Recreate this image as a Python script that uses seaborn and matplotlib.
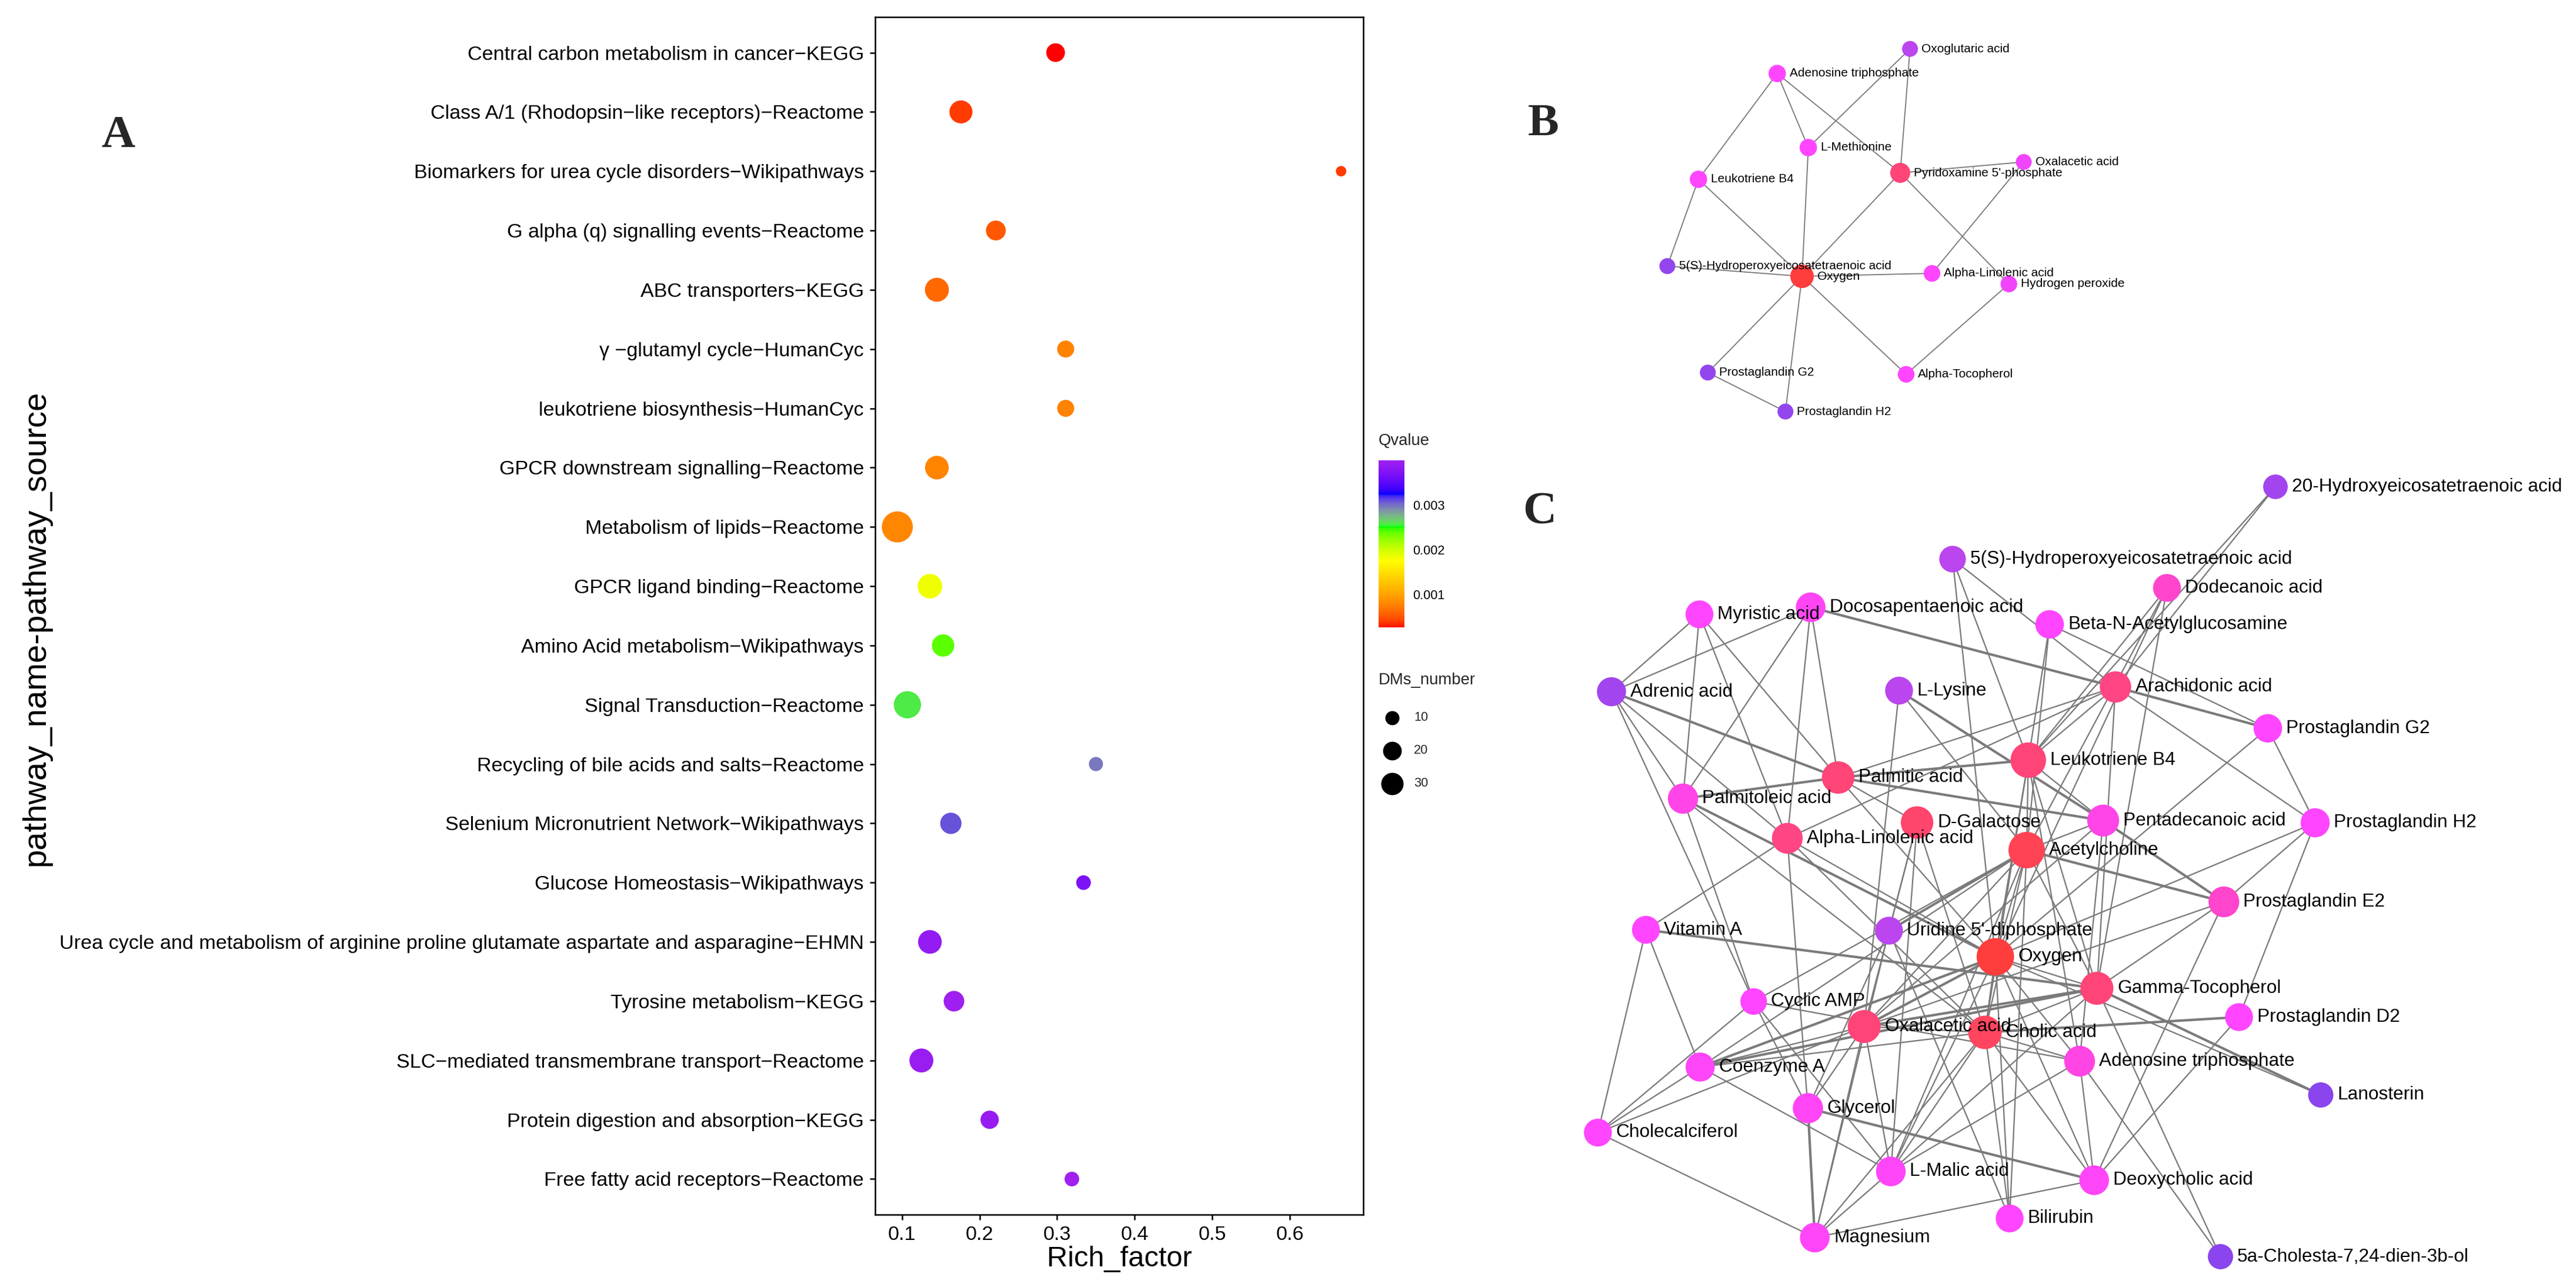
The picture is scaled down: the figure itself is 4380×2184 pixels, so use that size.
import numpy as np
import pandas as pd
import matplotlib
matplotlib.use("Agg")
import matplotlib.pyplot as plt
import seaborn as sns
from matplotlib.colors import ListedColormap, LinearSegmentedColormap, Normalize
from matplotlib.lines import Line2D
from matplotlib.collections import LineCollection
import matplotlib.cm as cm

# ---------------- Panel A data ----------------
PATHWAYS = [
    "Central carbon metabolism in cancer\u2212KEGG",
    "Class A/1 (Rhodopsin\u2212like receptors)\u2212Reactome",
    "Biomarkers for urea cycle disorders\u2212Wikipathways",
    "G alpha (q) signalling events\u2212Reactome",
    "ABC transporters\u2212KEGG",
    "\u03b3 \u2212glutamyl cycle\u2212HumanCyc",
    "leukotriene biosynthesis\u2212HumanCyc",
    "GPCR downstream signalling\u2212Reactome",
    "Metabolism of lipids\u2212Reactome",
    "GPCR ligand binding\u2212Reactome",
    "Amino Acid metabolism\u2212Wikipathways",
    "Signal Transduction\u2212Reactome",
    "Recycling of bile acids and salts\u2212Reactome",
    "Selenium Micronutrient Network\u2212Wikipathways",
    "Glucose Homeostasis\u2212Wikipathways",
    "Urea cycle and metabolism of arginine proline glutamate aspartate and asparagine\u2212EHMN",
    "Tyrosine metabolism\u2212KEGG",
    "SLC\u2212mediated transmembrane transport\u2212Reactome",
    "Protein digestion and absorption\u2212KEGG",
    "Free fatty acid receptors\u2212Reactome",
]
RICH_FACTOR = [0.298, 0.176, 0.666, 0.221, 0.145, 0.311, 0.311, 0.145, 0.094, 0.136,
               0.153, 0.107, 0.350, 0.163, 0.334, 0.136, 0.167, 0.125, 0.213, 0.319]
DMS_NUMBER = [20, 32, 4, 23, 35, 16, 16, 34, 61, 37, 30, 46, 10, 27, 11, 34, 25, 35, 19, 11]
QVALUE = [0.00026, 0.00039, 0.00038, 0.00052, 0.00060, 0.00076, 0.00077, 0.00078, 0.00080, 0.00183,
          0.00240, 0.00258, 0.00297, 0.00309, 0.00370, 0.00389, 0.00398, 0.00394, 0.00390, 0.00400]
RICH_TICKS = [0.1, 0.2, 0.3, 0.4, 0.5, 0.6]
QV_TICKS = [0.001, 0.002, 0.003]
DMS_LEGEND = [10, 20, 30]
Q_COLOURS = ["#FF0000", "#FFA500", "#FFFF00", "#00FF00", "#0000FF", "#A020F0"]

# ---------------- Panel B data ----------------
B_NODES = ["Oxoglutaric acid", "Adenosine triphosphate", "L-Methionine", "Leukotriene B4",
           "Pyridoxamine 5'-phosphate", "5(S)-Hydroperoxyeicosatetraenoic acid", "Oxygen",
           "Alpha-Linolenic acid", "Prostaglandin G2", "Prostaglandin H2", "Alpha-Tocopherol",
           "Oxalacetic acid", "Hydrogen peroxide"]
B_LAYOUT_X = [467.6, 241.8, 294.7, 107.9, 451.0, 55.0, 284.0, 505.0, 123.8, 255.8, 461.0, 661.0, 635.7]
B_LAYOUT_Y = [43.2, 85.0, 211.0, 265.0, 254.0, 412.6, 430.0, 425.0, 593.7, 660.0, 596.7, 235.5, 443.0]
B_DEGREE = [2, 3, 3, 3, 5, 2, 8, 2.5, 2, 2, 2.5, 2, 2.5]
B_SCORE = [2.0, 3.0, 3.0, 3.0, 7.0, 1.2, 9.0, 3.0, 1.2, 1.2, 3.0, 2.8, 2.8]
B_EDGES = [
    ("Adenosine triphosphate", "Leukotriene B4"),
    ("Adenosine triphosphate", "L-Methionine"),
    ("Adenosine triphosphate", "Pyridoxamine 5'-phosphate"),
    ("Oxoglutaric acid", "L-Methionine"),
    ("Oxoglutaric acid", "Pyridoxamine 5'-phosphate"),
    ("L-Methionine", "Oxygen"),
    ("Leukotriene B4", "5(S)-Hydroperoxyeicosatetraenoic acid"),
    ("Leukotriene B4", "Oxygen"),
    ("Pyridoxamine 5'-phosphate", "Oxygen"),
    ("Pyridoxamine 5'-phosphate", "Oxalacetic acid"),
    ("Pyridoxamine 5'-phosphate", "Hydrogen peroxide"),
    ("Oxalacetic acid", "Alpha-Linolenic acid"),
    ("5(S)-Hydroperoxyeicosatetraenoic acid", "Oxygen"),
    ("Oxygen", "Alpha-Linolenic acid"),
    ("Oxygen", "Prostaglandin G2"),
    ("Oxygen", "Prostaglandin H2"),
    ("Oxygen", "Alpha-Tocopherol"),
    ("Prostaglandin G2", "Prostaglandin H2"),
    ("Alpha-Tocopherol", "Hydrogen peroxide"),
]

# ---------------- Panel C data ----------------
C_KEYS = ["HETE", "HPETE", "DODEC", "DPA", "MYR", "BNAG", "ADR", "LYS", "ARA", "PGG2",
          "LTB4", "PALM", "PALMO", "DGAL", "PENTA", "PGH2", "ALA", "ACH", "PGE2", "VITA",
          "UDP", "OXY", "GTOC", "CAMP", "PGD2", "OAA", "CHOL", "COA", "ATP", "LANO",
          "GLY", "CHOLE", "MAL", "DEOX", "BILI", "MG", "CHOLESTA"]
C_NODES = ["20-Hydroxyeicosatetraenoic acid", "5(S)-Hydroperoxyeicosatetraenoic acid",
           "Dodecanoic acid", "Docosapentaenoic acid", "Myristic acid",
           "Beta-N-Acetylglucosamine", "Adrenic acid", "L-Lysine", "Arachidonic acid",
           "Prostaglandin G2", "Leukotriene B4", "Palmitic acid", "Palmitoleic acid",
           "D-Galactose", "Pentadecanoic acid", "Prostaglandin H2", "Alpha-Linolenic acid",
           "Acetylcholine", "Prostaglandin E2", "Vitamin A", "Uridine 5'-diphosphate",
           "Oxygen", "Gamma-Tocopherol", "Cyclic AMP", "Prostaglandin D2", "Oxalacetic acid",
           "Cholic acid", "Coenzyme A", "Adenosine triphosphate", "Lanosterin", "Glycerol",
           "Cholecalciferol", "L-Malic acid", "Deoxycholic acid", "Bilirubin", "Magnesium",
           "5a-Cholesta-7,24-dien-3b-ol"]
C_LAYOUT_X = [1219, 670, 1034.5, 428.7, 239.6, 835, 90, 579, 947, 1206,
              798.7, 475.4, 211.6, 609.6, 926, 1286.5, 389, 796, 1131.3, 148.6,
              561.8, 742.7, 915.4, 331.8, 1157, 519.7, 725, 240.8, 886, 1296,
              424, 66.9, 565, 910.7, 767, 435.7, 1125.5]
C_LAYOUT_Y = [68, 191, 240, 273, 285, 302, 416.6, 414.7, 408.5, 478.8,
              533, 562.5, 598.4, 639, 635.7, 639.5, 665.9, 686, 774, 821.5,
              823, 867.5, 921, 943.5, 970, 986, 996, 1055, 1045, 1102.5,
              1125, 1166.5, 1232.5, 1247.5, 1312.5, 1345, 1377.5]
C_DEGREE = [3, 6, 8, 11, 8, 9, 10, 8, 14, 9,
            22, 16, 12, 16, 15, 10, 13, 24, 13, 8,
            8, 26, 17, 6, 8, 17, 18, 10, 13, 4,
            12, 8, 11, 11, 8, 11, 4]
C_SCORE = [1.5, 2.0, 4.5, 3.3, 3.0, 3.0, 1.5, 2.0, 6.5, 3.0,
           7.0, 7.0, 3.7, 7.5, 3.7, 3.0, 6.5, 8.3, 4.5, 3.0,
           2.0, 9.0, 7.0, 3.0, 3.0, 7.0, 8.0, 3.2, 3.8, 1.0,
           3.3, 3.0, 3.2, 3.2, 3.0, 3.2, 1.0]
C_EDGES = [
    ("HETE", "ARA", 1), ("HETE", "LTB4", 1),
    ("HPETE", "LTB4", 1), ("HPETE", "ARA", 1), ("HPETE", "OXY", 1),
    ("DODEC", "LTB4", 1), ("DODEC", "ACH", 1), ("DODEC", "OXY", 1), ("DODEC", "GTOC", 1),
    ("MYR", "ADR", 1), ("MYR", "PALMO", 1), ("MYR", "PALM", 1), ("MYR", "ALA", 1),
    ("DPA", "ADR", 1), ("DPA", "PALMO", 1), ("DPA", "PALM", 1), ("DPA", "ALA", 1), ("DPA", "ARA", 2),
    ("BNAG", "LTB4", 1), ("BNAG", "PGG2", 1), ("BNAG", "ACH", 1),
    ("ADR", "PALMO", 1), ("ADR", "ALA", 1), ("ADR", "PALM", 2), ("ADR", "CAMP", 1),
    ("LYS", "PENTA", 2), ("LYS", "OAA", 1), ("LYS", "ACH", 1),
    ("ARA", "PGG2", 2), ("ARA", "PGH2", 1), ("ARA", "LTB4", 1), ("ARA", "ALA", 1),
    ("ARA", "PALM", 1), ("ARA", "GTOC", 1),
    ("PGG2", "PGH2", 1), ("PGG2", "OXY", 1),
    ("LTB4", "PALM", 2), ("LTB4", "ACH", 1), ("LTB4", "OXY", 1), ("LTB4", "CHOL", 1),
    ("LTB4", "GTOC", 1), ("LTB4", "PENTA", 1), ("LTB4", "ATP", 1),
    ("PALM", "PALMO", 2), ("PALM", "PENTA", 2), ("PALM", "DGAL", 1), ("PALM", "OXY", 1),
    ("PALMO", "OXY", 2), ("PALMO", "CHOL", 1), ("PALMO", "CAMP", 1),
    ("DGAL", "UDP", 1), ("DGAL", "OAA", 1), ("DGAL", "CHOL", 1), ("DGAL", "MAL", 1),
    ("PENTA", "PGE2", 2), ("PENTA", "ACH", 1), ("PENTA", "ATP", 1), ("PENTA", "OAA", 1),
    ("PGH2", "PGD2", 1), ("PGH2", "PGE2", 1), ("PGH2", "OXY", 1),
    ("ALA", "VITA", 1), ("ALA", "OXY", 1), ("ALA", "CHOL", 1), ("ALA", "GLY", 1),
    ("ACH", "UDP", 2), ("ACH", "OXY", 1), ("ACH", "CHOL", 1), ("ACH", "GTOC", 1),
    ("ACH", "PGE2", 2), ("ACH", "CAMP", 1), ("ACH", "COA", 1), ("ACH", "OAA", 1),
    ("ACH", "MAL", 1), ("ACH", "BILI", 1),
    ("VITA", "GTOC", 2), ("VITA", "CHOLE", 1), ("VITA", "COA", 1),
    ("UDP", "BILI", 1), ("UDP", "MG", 1), ("UDP", "GLY", 1),
    ("OXY", "CHOL", 1), ("OXY", "OAA", 2), ("OXY", "GTOC", 1), ("OXY", "MAL", 1),
    ("OXY", "BILI", 1), ("OXY", "COA", 2), ("OXY", "ATP", 1), ("OXY", "DEOX", 1), ("OXY", "LANO", 1),
    ("GTOC", "COA", 2), ("GTOC", "OAA", 2), ("GTOC", "PGE2", 1), ("GTOC", "LANO", 2),
    ("GTOC", "CHOL", 1), ("GTOC", "MAL", 1), ("GTOC", "CHOLESTA", 1),
    ("CAMP", "CHOLE", 1), ("CAMP", "ATP", 1), ("CAMP", "GLY", 1), ("CAMP", "MAL", 1),
    ("PGD2", "CHOL", 2), ("PGD2", "DEOX", 1),
    ("OAA", "COA", 1), ("OAA", "MAL", 1), ("OAA", "GLY", 1), ("OAA", "CHOL", 1),
    ("OAA", "MG", 1), ("OAA", "CHOLE", 1), ("OAA", "PGE2", 1),
    ("CHOL", "DEOX", 1), ("CHOL", "BILI", 1), ("CHOL", "MAL", 1), ("CHOL", "COA", 1),
    ("CHOL", "ATP", 1), ("CHOL", "MG", 1),
    ("COA", "CHOLE", 1), ("COA", "MAL", 1),
    ("ATP", "DEOX", 1), ("ATP", "CHOLESTA", 1), ("ATP", "MAL", 1),
    ("GLY", "DEOX", 2), ("GLY", "MG", 2),
    ("CHOLE", "MG", 1), ("MAL", "MG", 1), ("DEOX", "MG", 1), ("DEOX", "PGE2", 1),
]
NET_SCORE_STOPS = [1.0, 2.0, 3.0, 4.5, 6.5, 8.0, 9.0]
NET_COLOURS = ["#8A45EE", "#BB45EE", "#FF45FF", "#FF45CC", "#FF4585", "#FF4560", "#FF3D3D"]

# ---------------- helpers ----------------
W, H, DPI = 4380, 2184, 300
PT = DPI / 72.0


def box(x0, y0, x1, y1):
    return [x0 / W, 1 - y1 / H, (x1 - x0) / W, (y1 - y0) / H]


M_RGB2XYZ = np.array([[0.4124564, 0.3575761, 0.1804375],
                      [0.2126729, 0.7151522, 0.0721750],
                      [0.0193339, 0.1191920, 0.9503041]])
WHITE = np.array([0.95047, 1.0, 1.08883])


def hex_rgb(h):
    return np.array([int(h[i:i + 2], 16) for i in (1, 3, 5)]) / 255.0


def rgb_to_lab(rgb):
    lin = np.where(rgb <= 0.04045, rgb / 12.92, ((rgb + 0.055) / 1.055) ** 2.4)
    xyz = M_RGB2XYZ @ lin / WHITE
    d = 6 / 29
    f = np.where(xyz > d ** 3, np.cbrt(xyz), xyz / (3 * d * d) + 4 / 29)
    return np.array([116 * f[1] - 16, 500 * (f[0] - f[1]), 200 * (f[1] - f[2])])


def lab_to_rgb(lab):
    L, a, b = lab
    fy = (L + 16) / 116
    f = np.array([fy + a / 500, fy, fy - b / 200])
    d = 6 / 29
    xyz = np.where(f > d, f ** 3, 3 * d * d * (f - 4 / 29)) * WHITE
    lin = np.clip(np.linalg.inv(M_RGB2XYZ) @ xyz, 0, 1)
    rgb = np.where(lin <= 0.0031308, 12.92 * lin, 1.055 * lin ** (1 / 2.4) - 0.055)
    return np.clip(rgb, 0, 1)


def lab_ramp(colours, n=256):
    labs = [rgb_to_lab(hex_rgb(c)) for c in colours]
    pos = np.linspace(0, 1, len(colours))
    out = []
    for t in np.linspace(0, 1, n):
        i = min(np.searchsorted(pos, t, side="right") - 1, len(colours) - 2)
        u = (t - pos[i]) / (pos[i + 1] - pos[i])
        out.append(lab_to_rgb(labs[i] * (1 - u) + labs[i + 1] * u))
    return ListedColormap(out)


sns.set_theme(style="white")
plt.rcParams["font.family"] = ["Liberation Sans", "DejaVu Sans"]
plt.rcParams["axes.unicode_minus"] = True

fig = plt.figure(figsize=(W / DPI, H / DPI), dpi=DPI)
fig.patch.set_facecolor("white")

# ---------------- Panel A ----------------
q_cmap = lab_ramp(Q_COLOURS)
dfA = pd.DataFrame({"pathway": PATHWAYS, "Rich_factor": RICH_FACTOR,
                    "Qvalue": QVALUE, "DMs_number": DMS_NUMBER})
dfA["row"] = np.arange(len(dfA))
qnorm = (min(QVALUE), max(QVALUE))
SIZE_RANGE_A = (8.2, 258.0)
SIZE_NORM_A = (0, 100)

axA = fig.add_axes(box(1488, 29, 2318, 2066))
sns.scatterplot(data=dfA, x="Rich_factor", y="row", hue="Qvalue", size="DMs_number",
                palette=q_cmap, hue_norm=qnorm, sizes=SIZE_RANGE_A, size_norm=SIZE_NORM_A,
                linewidth=0, legend=False, ax=axA, zorder=3)
rng = max(RICH_FACTOR) - min(RICH_FACTOR)
axA.set_xlim(min(RICH_FACTOR) - 0.05 * rng, max(RICH_FACTOR) + 0.05 * rng)
axA.set_ylim(len(dfA) - 1 + 0.6, -0.6)
axA.set_yticks(dfA["row"])
axA.set_yticklabels(PATHWAYS)
axA.set_xticks(RICH_TICKS)
axA.set_xticklabels([f"{t:.1f}" for t in RICH_TICKS])
axA.tick_params(axis="both", direction="out", length=2.2, width=0.6, labelsize=8.2,
                pad=2.4, color="black", labelcolor="black", left=True, bottom=True)
for s in axA.spines.values():
    s.set_visible(True)
    s.set_color("black")
    s.set_linewidth(0.6)
axA.set_xlabel("Rich_factor", fontsize=11.7, color="black")
axA.set_ylabel("pathway_name-pathway_source", fontsize=13.5, color="black")
axA.xaxis.set_label_coords(0.5, -(2142 - 2066) / 2037)
axA.xaxis.label.set_va("center")
axA.yaxis.set_label_coords((61 - 1488) / 830, 0.49)
axA.yaxis.label.set_va("center")

# colorbar
cax = fig.add_axes(box(2344, 783, 2388, 1067))
sm = cm.ScalarMappable(norm=Normalize(*qnorm), cmap=q_cmap)
cb = fig.colorbar(sm, cax=cax, ticks=QV_TICKS)
cb.outline.set_visible(False)
cb.minorticks_off()
cb.ax.set_yticklabels([f"{t:.3f}" for t in QV_TICKS])
cax.tick_params(axis="y", which="major", direction="in", length=2.2, width=0.7,
                color="white", left=True, right=True, labelleft=False, labelright=True,
                labelsize=5.2, pad=3.3, labelcolor="black")
fig.text(2344 / W, 1 - 750 / H, "Qvalue", fontsize=6.6, ha="left", va="center")
fig.text(2344 / W, 1 - 1157 / H, "DMs_number", fontsize=6.6, ha="left", va="center")
for v, yy in zip(DMS_LEGEND, [1220.5, 1277, 1333]):
    s_area = SIZE_RANGE_A[0] + (SIZE_RANGE_A[1] - SIZE_RANGE_A[0]) * (v - SIZE_NORM_A[0]) / (SIZE_NORM_A[1] - SIZE_NORM_A[0])
    fig.add_artist(Line2D([2367 / W], [1 - yy / H], marker="o", markersize=np.sqrt(s_area),
                          color="black", markeredgewidth=0, linestyle="none",
                          transform=fig.transFigure))
    fig.text(2404 / W, 1 - yy / H, str(v), fontsize=5.2, ha="left", va="center")


# ---------------- networks ----------------
net_cmap = LinearSegmentedColormap.from_list(
    "net", list(zip([(s - NET_SCORE_STOPS[0]) / (NET_SCORE_STOPS[-1] - NET_SCORE_STOPS[0])
                     for s in NET_SCORE_STOPS], NET_COLOURS)))


def draw_network(ax, names, xs, ys, degree, score, edges, size_range, size_norm,
                 fontsize, gap_px, edge_w):
    df = pd.DataFrame({"name": names, "x": xs, "y": ys, "degree": degree, "score": score})
    pos = {n: (x, y) for n, x, y in zip(names, xs, ys)}
    segs = [[pos[e[0]], pos[e[1]]] for e in edges]
    widths = [edge_w[e[2] if len(e) > 2 else 1] for e in edges]
    ax.add_collection(LineCollection(segs, colors="#7a7a7a", linewidths=widths, zorder=1))
    sns.scatterplot(data=df, x="x", y="y", hue="score", size="degree", palette=net_cmap,
                    hue_norm=(NET_SCORE_STOPS[0], NET_SCORE_STOPS[-1]), sizes=size_range,
                    size_norm=size_norm, linewidth=0, legend=False, ax=ax, zorder=3)
    for n, x, y, d in zip(names, xs, ys, degree):
        s_area = size_range[0] + (size_range[1] - size_range[0]) * (d - size_norm[0]) / (size_norm[1] - size_norm[0])
        r_px = np.sqrt(s_area) * PT / 2
        ax.annotate(n, (x, y), xytext=((r_px + gap_px) / PT, 0), textcoords="offset points",
                    ha="left", va="center", fontsize=fontsize, color="black", zorder=4)
    ax.set_axis_off()


# Panel B
bx0, by0, bx1, by1 = 2780, 40, 3560, 740
axB = fig.add_axes(box(bx0, by0, bx1, by1))
draw_network(axB, B_NODES, B_LAYOUT_X, B_LAYOUT_Y, B_DEGREE, B_SCORE, B_EDGES,
             size_range=(25.3, 108.8), size_norm=(0, 10), fontsize=5.0, gap_px=6,
             edge_w={1: 0.45, 2: 0.8})
axB.set_xlim(0, bx1 - bx0)
axB.set_ylim(by1 - by0, 0)

# Panel C
cx0, cy0, cx1, cy1 = 2650, 760, 4380, 2184
axC = fig.add_axes(box(cx0, cy0, cx1, cy1))
key2name = dict(zip(C_KEYS, C_NODES))
c_edges = [(key2name[a], key2name[b], w) for a, b, w in C_EDGES]
draw_network(axC, C_NODES, C_LAYOUT_X, C_LAYOUT_Y, C_DEGREE, C_SCORE, c_edges,
             size_range=(83.2, 256.0), size_norm=(0, 30), fontsize=7.6, gap_px=7,
             edge_w={1: 0.55, 2: 1.0})
axC.set_xlim(0, cx1 - cx0)
axC.set_ylim(cy1 - cy0, 0)

# panel letters
for letter, (lx, ly) in zip(["A", "B", "C"], [(201, 232), (2624, 212), (2618, 872)]):
    fig.text(lx / W, 1 - ly / H, letter, fontsize=19, fontweight="bold",
             family=["Liberation Serif", "DejaVu Serif"], ha="center", va="center")

fig.savefig("out.png", dpi=DPI, facecolor="white")
